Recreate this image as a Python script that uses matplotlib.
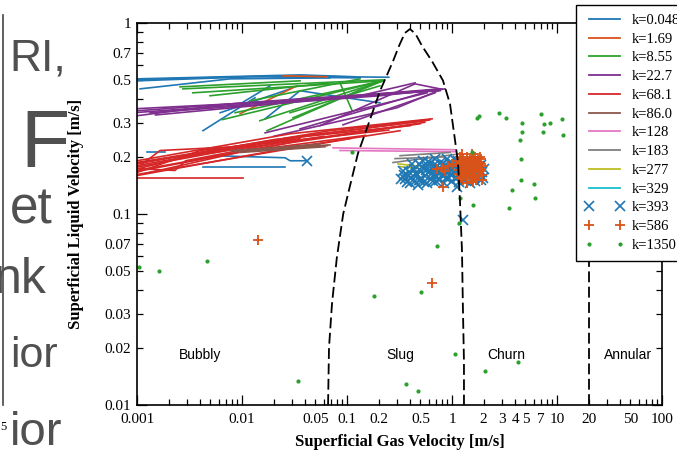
import numpy as np
import matplotlib
matplotlib.use('Agg')
import matplotlib.pyplot as plt
from matplotlib.lines import Line2D
from matplotlib.ticker import LogLocator, FuncFormatter

# Flow-regime map data (superficial gas velocity, superficial liquid velocity), m/s
# k = 0.048
k0048_x = [[0.001, 0.0119, 0.133], [0.00107, 0.0077, 0.0689], [0.001, 0.0357, 0.119],
           [0.00425, 0.0133], [0.0062, 0.0287], [0.0166, 0.0357, 0.206],
           [0.0096, 0.0185], [0.00124, 0.00185], [0.0053, 0.0257, 0.0287, 0.0416],
           [0.00425, 0.0257], [0.001, 0.02, 0.25]]
k0048_y = [[0.498, 0.523, 0.516], [0.452, 0.51, 0.516], [0.51, 0.535, 0.523],
           [0.273, 0.406], [0.339, 0.452], [0.315, 0.442, 0.382],
           [0.377, 0.469], [0.21, 0.21], [0.202, 0.197, 0.19, 0.19],
           [0.177, 0.177], [0.505, 0.528, 0.52]]
# k = 1.69
k169_x = [[0.0246, 0.0645], [0.0096, 0.0334]]
k169_y = [[0.529, 0.523], [0.335, 0.469]]
# k = 8.55
k855_x = [[0.00274, 0.22], [0.0034, 0.22], [0.0065, 0.22], [0.0086, 0.22],
          [0.0148, 0.22], [0.0173, 0.22], [0.0306, 0.22], [0.0119, 0.133],
          [0.0858, 0.112], [0.00496, 0.0689], [0.00257, 0.0357], [0.0287, 0.206]]
k855_y = [[0.452, 0.504], [0.431, 0.498], [0.312, 0.498], [0.339, 0.498],
          [0.308, 0.498], [0.273, 0.504], [0.319, 0.498], [0.391, 0.51],
          [0.486, 0.347], [0.416, 0.486], [0.463, 0.498], [0.339, 0.469]]
# k = 22.7
k227_x = [[0.001, 0.0287, 0.769], [0.001, 0.0077, 0.769], [0.00133, 0.206, 0.858],
          [0.0166, 0.58], [0.0357, 0.617], [0.0553, 0.445, 0.769],
          [0.0916, 0.689], [0.133, 0.445], [0.001, 0.0357, 0.769],
          [0.001, 0.1, 0.8], [0.0015, 0.05, 0.75], [0.02, 0.3, 0.8]]
k227_y = [[0.356, 0.391, 0.452], [0.327, 0.377, 0.442], [0.339, 0.416, 0.452],
          [0.266, 0.431], [0.279, 0.442], [0.29, 0.48, 0.452],
          [0.293, 0.431], [0.416, 0.486], [0.347, 0.401, 0.447],
          [0.34, 0.41, 0.45], [0.33, 0.395, 0.445], [0.255, 0.36, 0.45]]
# k = 68.1
k681_x = [[0.001, 0.0287, 0.646], [0.001, 0.0287, 0.553], [0.001, 0.0287, 0.5],
          [0.001, 0.0287, 0.32], [0.001, 0.004, 0.0357], [0.00107, 0.00166, 0.0119],
          [0.001, 0.0023, 0.0029, 0.0287], [0.001, 0.0102], [0.001, 0.0689, 0.617],
          [0.001, 0.107], [0.001, 0.02, 0.4], [0.001, 0.015, 0.25],
          [0.001, 0.04, 0.55], [0.0012, 0.01, 0.15], [0.001, 0.05, 0.6],
          [0.001, 0.003, 0.06]]
k681_y = [[0.19, 0.263, 0.315], [0.179, 0.251, 0.308], [0.169, 0.236, 0.297],
          [0.159, 0.222, 0.273], [0.165, 0.215, 0.248], [0.179, 0.215, 0.227],
          [0.173, 0.169, 0.19, 0.242], [0.155, 0.155], [0.186, 0.273, 0.312],
          [0.161, 0.248], [0.183, 0.245, 0.29], [0.176, 0.232, 0.275],
          [0.167, 0.245, 0.302], [0.163, 0.212, 0.258], [0.185, 0.26, 0.31],
          [0.172, 0.2, 0.255]]
# k = 86.0
k860_x = [[0.0077, 0.0689], [0.0096, 0.0617], [0.0119, 0.0553], [0.0085, 0.065]]
k860_y = [[0.215, 0.23], [0.21, 0.225], [0.217, 0.233], [0.212, 0.228]]
# k = 128
k128_x = [[0.0736, 1.07], [0.0858, 1.07]]
k128_y = [[0.222, 0.217], [0.215, 0.212]]
# k = 183
k183_x = [[0.274, 1.07], [0.32, 0.957], [0.287, 0.858]]
k183_y = [[0.186, 0.205], [0.202, 0.21], [0.195, 0.199]]
# k = 277
k277_x = [[0.306, 0.53], [0.32, 0.474]]
k277_y = [[0.183, 0.177], [0.177, 0.173]]
# k = 329
k329_x = [[0.4, 0.769]]
k329_y = [[0.165, 0.165]]

# k = 393 (points)
k393_x = [0.042, 0.356, 1.27, 1.11,
          0.33, 0.35, 0.37, 0.39, 0.41, 0.43, 0.44, 0.46, 0.48, 0.50, 0.51, 0.53,
          0.55, 0.57, 0.58, 0.60, 0.62, 0.63, 0.65, 0.67, 0.69, 0.70, 0.72, 0.74,
          0.76, 0.78, 0.80, 0.82, 0.84, 0.86, 0.88, 0.90, 0.92, 0.95, 0.97, 1.00,
          1.02, 1.05, 1.08, 1.10, 1.13, 1.16, 1.19, 1.22, 1.26, 1.30, 1.34, 1.38,
          1.42, 1.47, 1.52, 1.57, 1.62, 1.68, 1.74, 1.80, 1.87, 1.93, 2.00, 0.47,
          0.34, 0.38, 0.42, 0.45, 0.49, 0.52, 0.56, 0.59, 0.64, 0.68, 0.71, 0.75,
          0.79, 0.83, 0.87, 0.91, 0.96, 1.01, 1.06, 1.12, 1.18, 1.24, 1.32, 1.40,
          1.50, 1.60, 1.72, 1.85, 1.97, 0.40, 0.54, 0.66, 0.81, 0.99, 1.15, 1.45,
          1.65, 1.90]
k393_y = [0.19, 0.153, 0.0925, 0.138,
          0.152, 0.160, 0.147, 0.166, 0.155, 0.172, 0.148, 0.160, 0.183, 0.151, 0.168, 0.190,
          0.158, 0.176, 0.146, 0.165, 0.185, 0.153, 0.171, 0.160, 0.195, 0.148, 0.178, 0.163,
          0.152, 0.187, 0.170, 0.158, 0.146, 0.180, 0.165, 0.193, 0.154, 0.172, 0.160, 0.148,
          0.183, 0.166, 0.155, 0.190, 0.172, 0.147, 0.161, 0.180, 0.152, 0.169, 0.186, 0.157,
          0.175, 0.146, 0.163, 0.182, 0.154, 0.170, 0.160, 0.178, 0.150, 0.166, 0.173, 0.142,
          0.168, 0.158, 0.182, 0.163, 0.150, 0.176, 0.170, 0.187, 0.163, 0.180, 0.158, 0.150,
          0.166, 0.176, 0.155, 0.170, 0.185, 0.160, 0.176, 0.155, 0.180, 0.165, 0.150, 0.162,
          0.180, 0.172, 0.185, 0.162, 0.155, 0.145, 0.147, 0.148, 0.180, 0.175, 0.190, 0.158,
          0.148, 0.180]
# k = 586 (points)
k586_x = [0.0142, 0.646, 0.82, 0.72, 0.80, 0.92, 1.0, 0.85,
          1.12, 1.15, 1.18, 1.2, 1.22, 1.25, 1.28, 1.3, 1.33, 1.36, 1.4, 1.42,
          1.45, 1.48, 1.5, 1.53, 1.56, 1.6, 1.63, 1.66, 1.7, 1.73, 1.76, 1.8,
          1.84, 1.88, 1.92, 1.95, 1.9, 1.58, 1.38, 1.25, 1.55, 1.85,
          1.14, 1.19, 1.23, 1.27, 1.31, 1.35, 1.39, 1.43, 1.47, 1.51, 1.55, 1.59,
          1.64, 1.68, 1.72, 1.77, 1.82, 1.87, 1.93, 1.17, 1.29, 1.41, 1.52, 1.65,
          1.78, 1.89]
k586_y = [0.0728, 0.0433, 0.139, 0.173, 0.175, 0.179, 0.183, 0.168,
          0.19, 0.17, 0.155, 0.198, 0.182, 0.165, 0.15, 0.19, 0.175, 0.158, 0.2, 0.185,
          0.168, 0.152, 0.192, 0.177, 0.16, 0.197, 0.183, 0.165, 0.15, 0.19, 0.173, 0.158,
          0.185, 0.168, 0.178, 0.16, 0.195, 0.147, 0.145, 0.205, 0.205, 0.2,
          0.178, 0.188, 0.16, 0.195, 0.17, 0.185, 0.16, 0.175, 0.19, 0.165, 0.182, 0.17,
          0.155, 0.188, 0.178, 0.196, 0.165, 0.182, 0.15, 0.162, 0.182, 0.165, 0.155, 0.2,
          0.185, 0.172]
# k = 1350 (points)
k1350_x = [0.00104, 0.00162, 0.00464, 0.0341, 0.181, 0.365, 0.474, 0.507, 0.112,
           1.55, 1.73, 1.82, 2.81, 3.3, 4.64, 7.05, 7.5, 8.57, 11.2, 4.64, 7.3,
           11.4, 4.45, 4.55, 4.55, 6.04, 3.73, 6.2, 3.49, 1.19, 1.58, 1.16, 0.72,
           1.07, 4.25, 2.06]
k1350_y = [0.0526, 0.050, 0.057, 0.0134, 0.037, 0.0129, 0.0118, 0.0389, 0.212,
           0.212, 0.319, 0.326, 0.339, 0.32, 0.30, 0.335, 0.297, 0.30, 0.314, 0.27, 0.27,
           0.26, 0.245, 0.193, 0.15, 0.143, 0.133, 0.122, 0.108, 0.122, 0.112, 0.090, 0.0677,
           0.0185, 0.0168, 0.0151]

# regime boundaries
dome_x = [0.066, 0.0674, 0.072, 0.080, 0.092, 0.107, 0.127, 0.158, 0.206, 0.274,
          0.313, 0.356, 0.398, 0.45, 0.518, 0.646, 0.82, 0.957, 1.07, 1.14, 1.19,
          1.245, 1.27, 1.3, 1.3]
dome_y = [0.01, 0.02, 0.034, 0.059, 0.10, 0.141, 0.207, 0.29, 0.44, 0.63,
          0.759, 0.887, 0.93, 0.876, 0.759, 0.63, 0.50, 0.377, 0.242, 0.186, 0.118,
          0.064, 0.0325, 0.0168, 0.01]
annular_x = [20, 20]
annular_y = [0.01, 1.0]

regimes = ['Bubbly', 'Slug', 'Churn', 'Annular']
regime_x = [0.004, 0.32, 3.27, 48]
regime_y = 0.0182

line_series = [
    ('k=0.048', '#1f77b4', k0048_x, k0048_y),
    ('k=1.69', '#d95319', k169_x, k169_y),
    ('k=8.55', '#2ca02c', k855_x, k855_y),
    ('k=22.7', '#7e2f8e', k227_x, k227_y),
    ('k=68.1', '#d62728', k681_x, k681_y),
    ('k=86.0', '#8c564b', k860_x, k860_y),
    ('k=128', '#e377c2', k128_x, k128_y),
    ('k=183', '#7f7f7f', k183_x, k183_y),
    ('k=277', '#bcbd22', k277_x, k277_y),
    ('k=329', '#17becf', k329_x, k329_y),
]
x_labels = [0.001, 0.01, 0.05, 0.1, 0.2, 0.5, 1, 2, 3, 4, 5, 7, 10, 20, 50, 100]
y_labels = [0.01, 0.02, 0.03, 0.05, 0.07, 0.1, 0.2, 0.3, 0.5, 0.7, 1]

serif = 'Liberation Serif'
sans = 'Liberation Sans'

fig = plt.figure(figsize=(6.77, 4.61), dpi=100)
ax = fig.add_axes([137/677, 56/461, 525/677, 382/461])
ax.set_xscale('log')
ax.set_yscale('log')

handles = []
for label, color, xs, ys in line_series:
    for xx, yy in zip(xs, ys):
        ax.plot(xx, yy, color=color, lw=1.2)
    handles.append(Line2D([], [], color=color, lw=1.3, label=label))

ax.plot(k393_x, k393_y, ls='none', marker='x', color='#1f77b4', ms=6.5, mew=1.2)
ax.plot(k586_x, k586_y, ls='none', marker='+', color='#d95319', ms=7.5, mew=1.3)
ax.plot(k1350_x, k1350_y, ls='none', marker='o', color='#2ca02c', ms=3, mew=0)
handles.append(Line2D([], [], ls='none', marker='x', color='#1f77b4', ms=6.5, mew=1.2, label='k=393'))
handles.append(Line2D([], [], ls='none', marker='+', color='#d95319', ms=7.5, mew=1.3, label='k=586'))
handles.append(Line2D([], [], ls='none', marker='o', color='#2ca02c', ms=3, mew=0, label='k=1350'))

ax.plot(dome_x, dome_y, color='k', lw=1.3, ls=(0, (6, 2.5)), zorder=5)
ax.plot(annular_x, annular_y, color='k', lw=1.3, ls=(0, (6, 2.5)), zorder=5)

for name, xr in zip(regimes, regime_x):
    ax.text(xr, regime_y, name, family=sans, fontsize=10, ha='center', va='center')

ax.set_xlim(1e-3, 100)
ax.set_ylim(0.01, 1)


def tick_fmt(vals):
    def f(v, pos):
        for t in vals:
            if np.isclose(v, t, rtol=1e-6):
                return '%g' % t
        return ''
    return f


for axis, vals in ((ax.xaxis, x_labels), (ax.yaxis, y_labels)):
    axis.set_major_locator(LogLocator(base=10, numticks=12))
    axis.set_minor_locator(LogLocator(base=10, subs=np.arange(2, 10), numticks=12))
    axis.set_major_formatter(FuncFormatter(tick_fmt(vals)))
    axis.set_minor_formatter(FuncFormatter(tick_fmt(vals)))

ax.tick_params(which='both', direction='in', top=True, right=True, width=0.9)
ax.tick_params(which='major', length=7)
ax.tick_params(which='minor', length=4)
ax.tick_params(axis='x', which='both', pad=6)
ax.tick_params(axis='y', which='both', pad=4)
for lab in ax.get_xticklabels(which='both') + ax.get_yticklabels(which='both'):
    lab.set_family(serif)
    lab.set_fontsize(11)
for sp in ax.spines.values():
    sp.set_linewidth(1.2)

ax.set_xlabel('Superficial Gas Velocity [m/s]', family=serif, fontsize=12, fontweight='bold')
ax.set_ylabel('Superficial Liquid Velocity [m/s]', family=serif, fontsize=12, fontweight='bold')
ax.xaxis.set_label_coords(0.5, -0.075)
ax.yaxis.set_label_coords(-0.10, 0.5)

leg = ax.legend(handles=handles, loc='upper left', bbox_to_anchor=(576/677, 1 - 5/461),
                bbox_transform=fig.transFigure, borderaxespad=0, numpoints=2,
                prop={'family': serif, 'size': 10.5}, handlelength=2.7,
                handletextpad=0.5, labelspacing=0.38, borderpad=0.6,
                fancybox=False, framealpha=1, edgecolor='k')
leg.get_frame().set_linewidth(1.0)

# fragments of the surrounding page visible in the screenshot
frag = [('RI,', 9, 70, 32), ('F', 20, 167, 58), ('et', 10, 223, 37),
        ('nk', -6, 293, 36), ('ior', 10, 367, 31), ('ior', 10, 445, 34)]
for s, px, py, fs in frag:
    fig.text(px/677, 1 - py/461, s, family=sans, fontsize=fs, color='#505050', va='baseline')
fig.text(0, 1 - 430/461, '5', family=serif, fontsize=9, color='k', va='baseline')
fig.add_artist(Line2D([3/677, 3/677], [1 - 15/461, 1 - 405/461], color='#444444', lw=1.2))

fig.savefig('out.png', dpi=100)
